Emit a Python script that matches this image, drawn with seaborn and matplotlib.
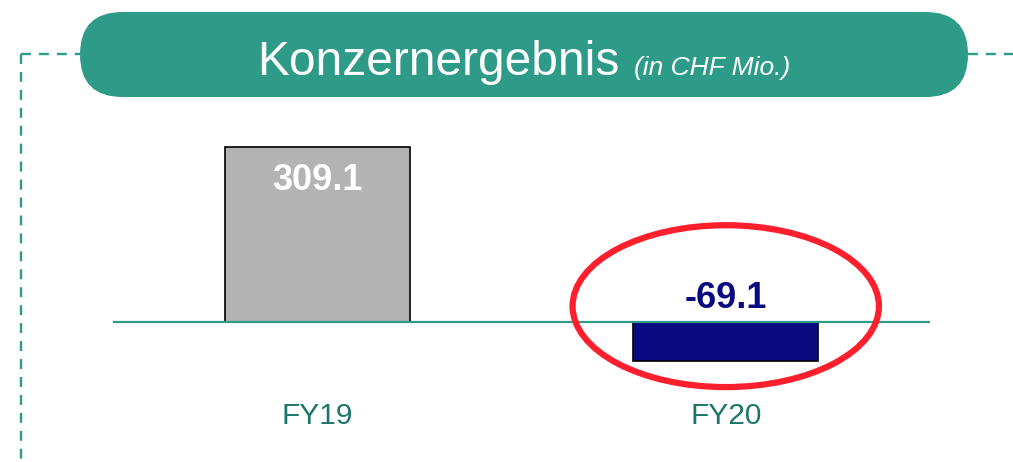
import matplotlib
matplotlib.use("Agg")
import matplotlib.pyplot as plt
import seaborn as sns
from matplotlib.patches import FancyBboxPatch, Ellipse

years = ["FY19", "FY20"]
results = [309.1, -69.1]
labels = ["309.1", "-69.1"]
title = "Konzernergebnis"
subtitle = "(in CHF Mio.)"

TEAL = "#2e9b88"
TICK_TEAL = "#1b7668"
bar_colors = ["#b3b3b3", "#0a0a80"]
label_colors = ["white", "#0a0a80"]

sns.set_theme(style="white")
plt.rcParams["font.family"] = ["Liberation Sans", "DejaVu Sans"]

W, H = 1013, 462
fig = plt.figure(figsize=(W / 100, H / 100), dpi=100)

# main chart axes, placed in pixel terms
left, right, top, bottom = 113, 930, 110, 395
ax = fig.add_axes([left / W, 1 - bottom / H, (right - left) / W, (bottom - top) / H])

sns.barplot(x=years, y=results, hue=years, palette=bar_colors, width=0.453,
            saturation=1, edgecolor="black", linewidth=1.2, legend=False, ax=ax)
ax.set_xlim(-0.5, 1.5)
ax.set_ylim(-129, 374.6)
ax.axhline(0, color=TEAL, lw=1.6, zorder=5)
for s in ax.spines.values():
    s.set_visible(False)
ax.set_yticks([])
ax.tick_params(axis="x", length=0, pad=5, labelsize=21.5, labelcolor=TICK_TEAL)
ax.set_xlabel("")

# value labels
ax.text(0, results[0] - 28, labels[0], ha="center", va="top", fontsize=26,
        fontweight="bold", color=label_colors[0], zorder=6)
ax.text(1, 24.7, labels[1], ha="center", va="baseline", fontsize=26,
        fontweight="bold", color=label_colors[1], zorder=6)

# red highlight ellipse around FY20
ax.add_patch(Ellipse((1.0, 28), 0.75, 286, fill=False, edgecolor="#ff1f2d",
                     lw=4.5, clip_on=False, zorder=7))

# overlay for header pill and dashed frame
ov = fig.add_axes([0, 0, 1, 1], zorder=-1)
ov.set_xlim(0, W)
ov.set_ylim(H, 0)
ov.axis("off")

dash = dict(color=TEAL, lw=1.7, linestyle=(0, (4.2, 3.4)))
ov.plot([21, 80], [54, 54], **dash)
ov.plot([21, 21], [54, H], **dash)
ov.plot([968, W], [54, 54], **dash)

pill = FancyBboxPatch((80, 12), 888, 85, boxstyle="round,pad=0,rounding_size=42.5",
                      facecolor=TEAL, edgecolor="none")
ov.add_patch(pill)
ov.text(257, 75, title, ha="left", va="baseline", fontsize=34.5, color="white")
ov.text(634, 75, subtitle, ha="left", va="baseline", fontsize=19,
        style="italic", color="white")

fig.savefig("out.png", dpi=100)
